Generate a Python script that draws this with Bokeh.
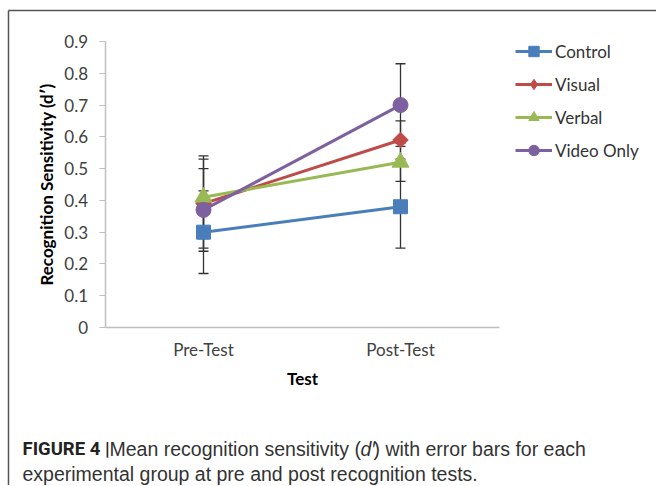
import math
from bokeh.plotting import figure
from bokeh.models import (Range1d, FixedTicker, Legend, LegendItem, Label,
                          Whisker, TeeHead, ColumnDataSource)
from bokeh.embed import file_html
from bokeh.resources import INLINE

# ---------------- data ----------------
tests = ["Pre-Test", "Post-Test"]
test_pos = [1, 2]
groups = ["Control", "Visual", "Verbal", "Video Only"]
control = [0.30, 0.38]
visual = [0.39, 0.59]
verbal = [0.41, 0.52]
video_only = [0.37, 0.70]
control_err = [0.13, 0.13]
visual_err = [0.14, 0.06]
verbal_err = [0.13, 0.06]
video_only_err = [0.13, 0.13]
y_ticks = [0.0, 0.1, 0.2, 0.3, 0.4, 0.5, 0.6, 0.7, 0.8, 0.9]
y_tick_labels = ["0", "0.1", "0.2", "0.3", "0.4", "0.5", "0.6", "0.7", "0.8", "0.9"]
x_title = "Test"
y_title = "Recognition Sensitivity (d\u2032)"
caption_bold = "FIGURE 4 |"
caption_a = "Mean recognition sensitivity ("
caption_b = "d\u2032"
caption_c = ") with error bars for each"
caption_line2 = "experimental group at pre and post recognition tests."

series_values = [control, visual, verbal, video_only]
series_errors = [control_err, visual_err, verbal_err, video_only_err]
colors = ["#4A7EBB", "#BE4B48", "#98B954", "#7D60A0"]
markers = ["square", "square", "triangle", "circle"]
legend_markers = ["square", "diamond", "triangle", "circle"]
sizes = [14, 11, 17, 15]
angles = [0, math.pi / 4, 0, 0]

# ---------------- layout (pixels) ----------------
W, H = 656, 485
X1_PX, X2_PX = 203, 400          # screen x of the two test positions
Y0_PX, Y9_PX = 327, 41           # screen y of 0 and 0.9
kx = (X2_PX - X1_PX) / (test_pos[1] - test_pos[0])
ky = (Y0_PX - Y9_PX) / (y_ticks[-1] - y_ticks[0])
x_start = test_pos[0] - X1_PX / kx
y_end = Y0_PX / ky

def px2x(sx):
    return x_start + sx / kx

def px2y(sy):
    return y_end - sy / ky

FONT = "Lato"
TXT = "#404040"
AXC = "#BFBFBF"

p = figure(width=W, height=H,
           x_range=Range1d(x_start, x_start + W / kx),
           y_range=Range1d(y_end - H / ky, y_end),
           output_backend="svg", toolbar_location=None,
           min_border=0, min_border_left=0, min_border_right=0,
           min_border_top=0, min_border_bottom=0)
p.outline_line_color = None
p.grid.visible = False
p.background_fill_color = "white"
p.border_fill_color = "white"

# page frame (top and left edges)
p.segment(x0=[px2x(8), px2x(8)], y0=[px2y(10), px2y(10)],
          x1=[px2x(W + 5), px2x(8)], y1=[px2y(10), px2y(H + 5)],
          line_color="#555555", line_width=1.5)

# error bars (behind)
for vals, errs in zip(series_values, series_errors):
    src = ColumnDataSource(dict(x=test_pos,
                                upper=[v + e for v, e in zip(vals, errs)],
                                lower=[v - e for v, e in zip(vals, errs)]))
    w = Whisker(base="x", upper="upper", lower="lower", source=src,
                line_color="#333333", line_width=1.3,
                upper_head=TeeHead(size=10, line_color="#333333", line_width=1.3),
                lower_head=TeeHead(size=10, line_color="#333333", line_width=1.3),
                level="underlay")
    p.add_layout(w)

items = []
for g, vals, c, m, lm, s, a in zip(groups, series_values, colors, markers,
                                   legend_markers, sizes, angles):
    lr = p.line(x=test_pos, y=vals, line_color=c, line_width=3)
    sr = p.scatter(x=test_pos, y=vals, marker=m, size=s, angle=a,
                   fill_color=c, line_color=c)
    if lm != m or a != 0:
        # legend-only marker (not drawn in the plot area: NaN position)
        sr = p.scatter(x=[float("nan")], y=[float("nan")], marker=lm, size=s,
                       fill_color=c, line_color=c)
    items.append(LegendItem(label=g, renderers=[lr, sr]))

legend = Legend(items=items, location=(515, H - 163), padding=0, margin=0,
                glyph_width=37, glyph_height=26, label_height=26, spacing=7,
                label_standoff=3, border_line_color=None, background_fill_alpha=0,
                label_text_font=FONT, label_text_font_size="17px",
                label_text_color="#333333")
p.add_layout(legend, "center")

# axes
p.yaxis.fixed_location = test_pos[0] - 0.5
p.yaxis.bounds = (y_ticks[0], y_ticks[-1])
p.yaxis.ticker = FixedTicker(ticks=y_ticks)
p.yaxis.major_label_overrides = {t: l for t, l in zip(y_ticks, y_tick_labels)}
p.yaxis.minor_tick_line_color = None
p.yaxis.major_tick_out = 6
p.yaxis.major_tick_in = 0
p.yaxis.major_tick_line_color = AXC
p.yaxis.axis_line_color = AXC
p.yaxis.axis_line_width = 1.5
p.yaxis.major_label_standoff = 11
p.yaxis.major_label_text_font = FONT
p.yaxis.major_label_text_font_size = "17px"
p.yaxis.major_label_text_color = TXT
p.yaxis.axis_label = y_title
p.yaxis.axis_label_text_font = FONT
p.yaxis.axis_label_text_font_size = "17px"
p.yaxis.axis_label_text_font_style = "bold"
p.yaxis.axis_label_text_color = "#000000"
p.yaxis.axis_label_standoff = 5

p.xaxis.fixed_location = y_ticks[0]
p.xaxis.bounds = (test_pos[0] - 0.5, test_pos[1] + 0.5)
p.xaxis.ticker = FixedTicker(ticks=test_pos)
p.xaxis.major_label_overrides = {t: l for t, l in zip(test_pos, tests)}
p.xaxis.major_tick_line_color = None
p.xaxis.minor_tick_line_color = None
p.xaxis.axis_line_color = AXC
p.xaxis.axis_line_width = 1.5
p.xaxis.major_label_standoff = 5
p.xaxis.major_label_text_font = FONT
p.xaxis.major_label_text_font_size = "17px"
p.xaxis.major_label_text_color = TXT
p.xaxis.axis_label = x_title
p.xaxis.axis_label_text_font = FONT
p.xaxis.axis_label_text_font_size = "17px"
p.xaxis.axis_label_text_font_style = "bold"
p.xaxis.axis_label_text_color = "#000000"
p.xaxis.axis_label_standoff = 5

# caption
CAPF = "Liberation Sans"
CAPS = "19.5px"
def cap(x, y, text, font, size, style="normal", color="#333333"):
    p.add_layout(Label(x=x, y=y, x_units="screen", y_units="screen", text=text,
                       text_font=font, text_font_size=size, text_font_style=style,
                       text_color=color, text_baseline="alphabetic"))

cap(22, H - 448, caption_bold, "Roboto", "18.5px", "bold", "#222222")
cap(109, H - 448, caption_a, CAPF, CAPS)
cap(360, H - 448, caption_b, CAPF, CAPS, "italic")
cap(373, H - 448, caption_c, CAPF, CAPS)
cap(22, H - 473, caption_line2, CAPF, CAPS)

open("out.html", "w").write(file_html(p, INLINE))
